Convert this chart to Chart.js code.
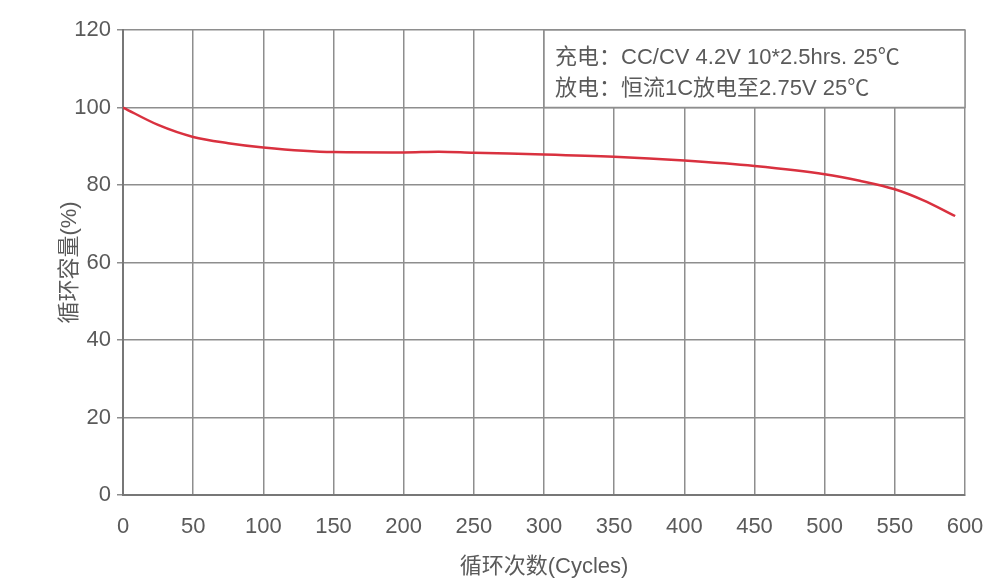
<!DOCTYPE html>
<html>
<head>
<meta charset="utf-8">
<script src="https://cdn.jsdelivr.net/npm/chart.js@4/dist/chart.umd.min.js"></script>
<style>
  html, body { margin: 0; padding: 0; background: #fff; }
  #wrap { width: 984px; height: 584px; }
</style>
</head>
<body>
<div id="wrap"><canvas id="cycleChart" width="984" height="584"></canvas></div>
<script>
// values
const cycles   = [0, 25, 50, 75, 100, 150, 200, 225, 250, 300, 350, 400, 450, 500, 525, 550, 570, 593];
const capacity = [100, 95.5, 92.4, 90.8, 89.7, 88.5, 88.4, 88.6, 88.3, 87.9, 87.3, 86.3, 84.9, 82.8, 81.1, 78.9, 76.1, 72.0];

const noteLines = ['充电：CC/CV 4.2V 10*2.5hrs. 25℃', '放电：恒流1C放电至2.75V 25℃'];
const noteBox = { x0: 300, x1: 600, y0: 100, y1: 120 };

const gridColor = '#8e8e8e';
const textColor = '#5a5a5a';
const fontFamily = '"Liberation Sans", Arial, "Noto Sans CJK SC", sans-serif';

// white box with the test conditions, top right of the plot
const notePlugin = {
    id: 'note',
    beforeDatasetsDraw(chart) {
        const { ctx, scales: { x, y } } = chart;
        const left = x.getPixelForValue(noteBox.x0);
        const right = x.getPixelForValue(noteBox.x1);
        const top = y.getPixelForValue(noteBox.y1);
        const bottom = y.getPixelForValue(noteBox.y0);
        ctx.save();
        ctx.fillStyle = '#fff';
        ctx.fillRect(left, top, right - left, bottom - top);
        ctx.strokeStyle = gridColor;
        ctx.lineWidth = 1.5;
        ctx.strokeRect(left, top, right - left, bottom - top);
        ctx.fillStyle = textColor;
        ctx.font = '22px ' + fontFamily;
        ctx.textBaseline = 'middle';
        const h = bottom - top;
        ctx.fillText(noteLines[0], left + 11, top + h * 0.36);
        ctx.fillText(noteLines[1], left + 11, top + h * 0.76);
        ctx.restore();
    }
};

new Chart(document.getElementById('cycleChart'), {
    type: 'line',
    data: {
        datasets: [{
            data: cycles.map((c, i) => ({ x: c, y: capacity[i] })),
            borderColor: '#d9313f',
            borderWidth: 2.5,
            pointRadius: 0,
            cubicInterpolationMode: 'monotone',
            fill: false
        }]
    },
    options: {
        responsive: false,
        animation: false,
        layout: { padding: { left: 53, top: 30, right: 19, bottom: 0 } },
        plugins: {
            legend: { display: false },
            tooltip: { enabled: false }
        },
        scales: {
            x: {
                type: 'linear',
                min: 0,
                max: 600,
                afterFit(scale) {
                    scale.height = 89;
                    scale.paddingLeft = 0;
                    scale.paddingRight = 0;
                },
                grid: { color: gridColor, lineWidth: 1.5, drawTicks: false },
                border: { color: '#777', width: 2 },
                ticks: { stepSize: 50, padding: 19, color: textColor, font: { size: 22, family: fontFamily } },
                title: {
                    display: true,
                    text: '循环次数(Cycles)',
                    color: textColor,
                    font: { size: 22, family: fontFamily },
                    padding: { top: 0, bottom: 4 }
                }
            },
            y: {
                min: 0,
                max: 120,
                afterFit(scale) { scale.width = 70; },
                grid: { color: gridColor, lineWidth: 1.5, tickLength: 6 },
                border: { color: '#777', width: 2 },
                ticks: { stepSize: 20, padding: 6, color: textColor, font: { size: 22, family: fontFamily } },
                title: {
                    display: true,
                    text: '循环容量(%)',
                    color: textColor,
                    font: { size: 22, family: fontFamily },
                    padding: { top: 4, bottom: 0 }
                }
            }
        }
    },
    plugins: [notePlugin]
});
</script>
</body>
</html>
